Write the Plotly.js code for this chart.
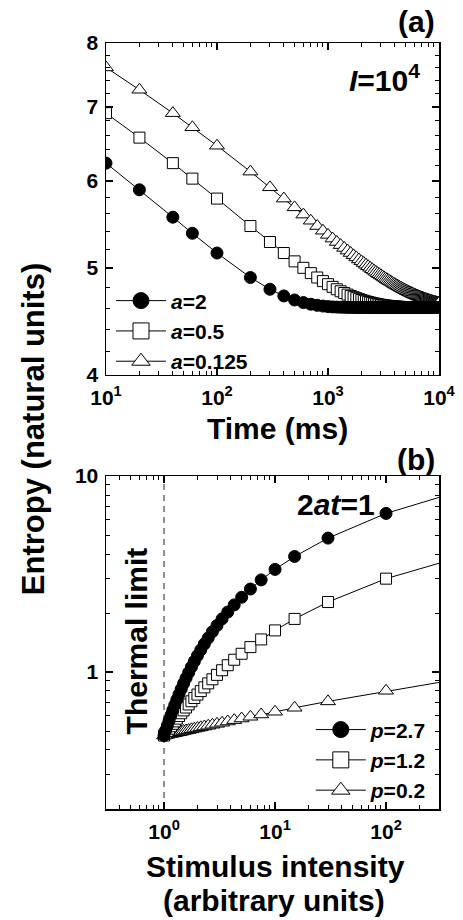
<!DOCTYPE html>
<html>
<head>
<meta charset="utf-8">
<script src="https://cdn.plot.ly/plotly-3.0.1.min.js"></script>
<style>html,body{margin:0;padding:0;background:#fff;}#chart{width:463px;height:920px;}</style>
</head>
<body>
<div id="chart"></div>
<script>
// ---------- Panel (a): entropy vs time, I = 10^4 ----------
const timeMs = [10,20,40,60,
 100,200,300,400,500,600,700,800,900,1000,
 1100,1200,1300,1400,1500,1600,1700,1800,1900,2000,
 2100,2200,2300,2400,2500,2600,2700,2800,2900,3000,
 3100,3200,3300,3400,3500,3600,3700,3800,3900,4000,
 4100,4200,4300,4400,4500,4600,4700,4800,4900,5000,
 5100,5200,5300,5400,5500,5600,5700,5800,5900,6000,
 6100,6200,6300,6400,6500,6600,6700,6800,6900,7000,
 7100,7200,7300,7400,7500,7600,7700,7800,7900,8000,
 8100,8200,8300,8400,8500,8600,8700,8800,8900,9000,
 9100,9200,9300,9400,9500,9600,9700,9800,9900,10000];

const entropyA2 = [6.225,5.888,5.561,5.377,
 5.160,4.903,4.784,4.718,4.678,4.653,4.637,4.626,4.619,4.614,
 4.611,4.609,4.608,4.607,4.606,4.606,4.605,4.605,4.605,4.605,
 4.605,4.605,4.605,4.605,4.605,4.605,4.605,4.605,4.605,4.605,
 4.605,4.605,4.605,4.605,4.605,4.605,4.605,4.605,4.605,4.605,
 4.605,4.605,4.605,4.605,4.605,4.605,4.605,4.605,4.605,4.605,
 4.605,4.605,4.605,4.605,4.605,4.605,4.605,4.605,4.605,4.605,
 4.605,4.605,4.605,4.605,4.605,4.605,4.605,4.605,4.605,4.605,
 4.605,4.605,4.605,4.605,4.605,4.605,4.605,4.605,4.605,4.605,
 4.605,4.605,4.605,4.605,4.605,4.605,4.605,4.605,4.605,4.605,
 4.605,4.605,4.605,4.605,4.605,4.605,4.605,4.605,4.605,4.605];

const entropyA05 = [6.910,6.566,6.225,6.027,
 5.781,5.459,5.280,5.160,5.071,5.003,4.948,4.903,4.866,4.835,
 4.808,4.784,4.764,4.747,4.731,4.718,4.706,4.696,4.686,4.678,
 4.670,4.664,4.658,4.653,4.648,4.644,4.640,4.637,4.633,4.631,
 4.628,4.626,4.624,4.622,4.621,4.619,4.618,4.617,4.615,4.614,
 4.613,4.613,4.612,4.611,4.611,4.610,4.610,4.609,4.609,4.608,
 4.608,4.608,4.608,4.607,4.607,4.607,4.607,4.607,4.606,4.606,
 4.606,4.606,4.606,4.606,4.606,4.606,4.606,4.606,4.606,4.605,
 4.605,4.605,4.605,4.605,4.605,4.605,4.605,4.605,4.605,4.605,
 4.605,4.605,4.605,4.605,4.605,4.605,4.605,4.605,4.605,4.605,
 4.605,4.605,4.605,4.605,4.605,4.605,4.605,4.605,4.605,4.605];

const entropyA0125 = [7.602,7.256,6.910,6.709,
 6.456,6.116,5.919,5.781,5.676,5.591,5.520,5.459,5.406,5.359,
 5.318,5.280,5.246,5.215,5.186,5.160,5.135,5.113,5.091,5.071,
 5.053,5.035,5.019,5.003,4.988,4.974,4.961,4.948,4.936,4.925,
 4.914,4.903,4.893,4.884,4.875,4.866,4.858,4.850,4.842,4.835,
 4.827,4.821,4.814,4.808,4.801,4.796,4.790,4.784,4.779,4.774,
 4.769,4.764,4.760,4.755,4.751,4.747,4.743,4.739,4.735,4.731,
 4.728,4.724,4.721,4.718,4.715,4.712,4.709,4.706,4.703,4.701,
 4.698,4.696,4.693,4.691,4.688,4.686,4.684,4.682,4.680,4.678,
 4.676,4.674,4.672,4.670,4.669,4.667,4.665,4.664,4.662,4.661,
 4.659,4.658,4.656,4.655,4.654,4.653,4.651,4.650,4.649,4.648];

// ---------- Panel (b): entropy vs stimulus intensity, 2at = 1 ----------
const stimulus = [1,1.0345,1.0714,1.1111,1.1538,1.2,1.25,1.3043,1.3636,1.4286,
 1.5,1.5789,1.6667,1.7647,1.875,2,2.1429,2.3077,2.5,2.7273,
 3,3.3333,3.75,4.2857,5,6,7.5,10,15,30,100,1000];

const entropyP27 = [0.474,0.503,0.533,0.566,0.601,0.639,0.679,0.723,0.769,0.819,
 0.873,0.931,0.993,1.060,1.133,1.212,1.297,1.390,1.492,1.605,
 1.728,1.867,2.023,2.200,2.406,2.651,2.951,3.339,3.886,4.821,6.446,9.555];

const entropyP12 = [0.474,0.487,0.500,0.514,0.529,0.544,0.560,0.578,0.596,0.616,
 0.637,0.659,0.683,0.709,0.737,0.767,0.799,0.835,0.875,0.918,
 0.967,1.021,1.083,1.155,1.239,1.340,1.466,1.630,1.866,2.275,2.994,4.374];

const entropyP02 = [0.474,0.476,0.479,0.481,0.483,0.486,0.488,0.491,0.493,0.496,
 0.500,0.503,0.506,0.510,0.514,0.518,0.522,0.527,0.532,0.538,
 0.544,0.551,0.559,0.568,0.579,0.591,0.607,0.627,0.657,0.708,0.802,0.994];

// tick labels
const timeTickVals = [10,100,1000,10000];
const timeTickText = ['<b>10<sup>1</sup></b>','<b>10<sup>2</sup></b>','<b>10<sup>3</sup></b>','<b>10<sup>4</sup></b>'];
const entTopTickVals = [4,5,6,7,8];
const entTopTickText = ['<b>4</b>','<b>5</b>','<b>6</b>','<b>7</b>','<b>8</b>'];
const entTopMinor = [4.2,4.4,4.6,4.8,5.2,5.4,5.6,5.8,6.2,6.4,6.6,6.8,7.2,7.4,7.6,7.8];
const stimTickVals = [1,10,100];
const stimTickText = ['<b>10<sup>0</sup></b>','<b>10<sup>1</sup></b>','<b>10<sup>2</sup></b>'];
const entBotTickVals = [1,10];
const entBotTickText = ['<b>1</b>','<b>10</b>'];
const thermalLimit = 1;

const legendA = ['<i>a</i>=2','<i>a</i>=0.5','<i>a</i>=0.125'];
const legendP = ['<i>p</i>=2.7','<i>p</i>=1.2','<i>p</i>=0.2'];

const FONT = '"Liberation Sans", Arial, Helvetica, sans-serif';

function mk(symbol, fill, size) {
  return {symbol: symbol, size: size, color: fill, line: {color: '#000', width: 1}};
}
const lineStyle = {color: '#000', width: 1};
const styles = [
  {sym: 'circle', fill: '#000', size: 12},
  {sym: 'square', fill: '#fff', size: 11},
  {sym: 'triangle-up', fill: '#fff', size: 13}
];

const topY = [entropyA2, entropyA05, entropyA0125];
const botY = [entropyP27, entropyP12, entropyP02];

const traces = [];
// data traces (triangles drawn first, circles on top)
for (let i = 2; i >= 0; i--) {
  traces.push({x: timeMs, y: topY[i], xaxis: 'x', yaxis: 'y', mode: 'lines+markers',
    line: lineStyle, marker: mk(styles[i].sym, styles[i].fill, styles[i].size), showlegend: false});
}
for (let i = 2; i >= 0; i--) {
  traces.push({x: stimulus, y: botY[i], xaxis: 'x2', yaxis: 'y2', mode: 'lines+markers',
    line: lineStyle, marker: mk(styles[i].sym, styles[i].fill, styles[i].size), showlegend: false});
}
// legend keys (no data points; larger symbols as in the reference key)
for (let i = 0; i < 3; i++) {
  traces.push({x: [null], y: [null], xaxis: 'x', yaxis: 'y', mode: 'lines+markers', name: legendA[i],
    line: lineStyle, marker: mk(styles[i].sym, styles[i].fill, 16), legend: 'legend', legendrank: i + 1});
  traces.push({x: [null], y: [null], xaxis: 'x2', yaxis: 'y2', mode: 'lines+markers', name: legendP[i],
    line: lineStyle, marker: mk(styles[i].sym, styles[i].fill, 16), legend: 'legend2', legendrank: i + 1});
}

const tickFont = {family: FONT, size: 21, color: '#000', weight: 'bold'};
const bigFont = {family: FONT, size: 30, color: '#000', weight: 'bold'};

function axisBase() {
  return {
    type: 'log', showline: true, linecolor: '#000', linewidth: 1.5, mirror: 'allticks',
    ticks: 'inside', ticklen: 7, tickwidth: 1.5, tickcolor: '#000',
    showgrid: false, zeroline: false, tickfont: tickFont, tickmode: 'array'
  };
}
const minorD1 = {ticks: 'inside', ticklen: 4, tickwidth: 1, tickcolor: '#000', dtick: 'D1'};

const xTop = Object.assign(axisBase(), {
  domain: [0, 1], anchor: 'y', range: [1, 4], ticklabelstandoff: 3,
  tickvals: timeTickVals, ticktext: timeTickText, minor: minorD1
});
const yTop = Object.assign(axisBase(), {
  domain: [0.5666, 1], anchor: 'x', range: [Math.log10(4), Math.log10(8)], ticklabelstandoff: 2,
  tickvals: entTopTickVals, ticktext: entTopTickText,
  minor: {ticks: 'inside', ticklen: 4, tickwidth: 1, tickcolor: '#000', tickmode: 'array', tickvals: entTopMinor}
});
const xBot = Object.assign(axisBase(), {
  domain: [0, 1], anchor: 'y2', range: [Math.log10(0.3), Math.log10(300)], ticklabelstandoff: 3,
  tickvals: stimTickVals, ticktext: stimTickText, minor: minorD1
});
const yBot = Object.assign(axisBase(), {
  domain: [0, 0.4347], anchor: 'x2', range: [Math.log10(0.2), 1], ticklabelstandoff: 2,
  tickvals: entBotTickVals, ticktext: entBotTickText, minor: minorD1
});

const legendFont = {family: FONT, size: 21, color: '#000', weight: 'bold'};

function ann(text, x, y, extra) {
  return Object.assign({text: text, xref: 'paper', yref: 'paper', x: x, y: y,
    xanchor: 'center', yanchor: 'middle', showarrow: false, font: bigFont}, extra || {});
}

const layout = {
  width: 463, height: 920,
  margin: {l: 106, r: 24, t: 43, b: 111},
  paper_bgcolor: '#fff', plot_bgcolor: '#fff',
  showlegend: true,
  xaxis: xTop, yaxis: yTop, xaxis2: xBot, yaxis2: yBot,
  legend: {x: 0.015, y: 0.690, xanchor: 'left', yanchor: 'top', bgcolor: 'rgba(0,0,0,0)',
           font: legendFont, tracegroupgap: 0, itemsizing: 'trace', itemwidth: 50},
  legend2: {x: 0.615, y: 0.130, xanchor: 'left', yanchor: 'top', bgcolor: 'rgba(0,0,0,0)',
            font: legendFont, tracegroupgap: 0, itemsizing: 'trace', itemwidth: 50},
  shapes: [
    {type: 'line', xref: 'x2', yref: 'y2 domain', x0: thermalLimit, x1: thermalLimit, y0: 0, y1: 1,
     line: {color: '#222', width: 1, dash: '6px,5px'}, layer: 'below'}
  ],
  annotations: [
    ann('Entropy (natural units)', -0.219, 0.496, {textangle: -90, font: Object.assign({}, bigFont, {size: 31})}),
    ann('Time (ms)', 0.5165, 0.497),
    ann('Stimulus intensity', 0.508, -0.0745),
    ann('(arbitrary units)', 0.505, -0.1198),
    ann('(a)', 0.994, 1.0287, {xanchor: 'right'}),
    ann('<i>I</i>=10<sup>4</sup>', 0.95, 0.954, {xanchor: 'right'}),
    ann('(b)', 0.994, 0.456, {xanchor: 'right'}),
    ann('2<i>at</i>=1', 0.69, 0.397),
    ann('Thermal limit', 0.093, 0.22, {textangle: -90})
  ]
};

Plotly.newPlot('chart', traces, layout, {staticPlot: true, displayModeBar: false});
</script>
</body>
</html>
